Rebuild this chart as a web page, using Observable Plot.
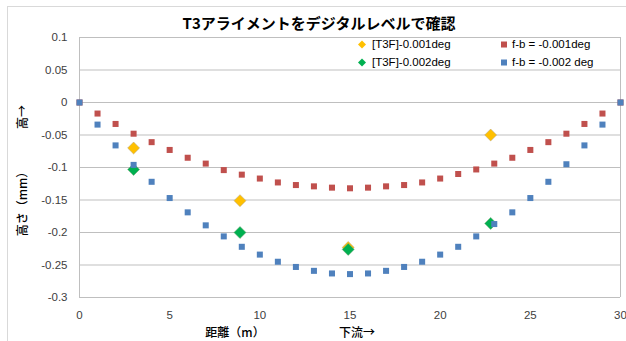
<!DOCTYPE html>
<html><head><meta charset="utf-8">
<script src="https://cdn.jsdelivr.net/npm/d3@7"></script>
<script src="https://cdn.jsdelivr.net/npm/@observablehq/plot@0.6"></script>
<style>
body{margin:0;background:#fff;}
#wrap{position:relative;width:626px;height:341px;overflow:hidden;font-family:"Liberation Sans","Noto Sans CJK JP",sans-serif;}
#frame{position:absolute;left:7px;top:6px;width:700px;height:400px;border:1px solid #d9d9d9;}
.abs{position:absolute;white-space:nowrap;}
#title{left:319px;top:22px;transform:translate(-50%,-50%);font:bold 15px "Noto Sans CJK JP",sans-serif;color:#000;}
.lab{font:500 12px/1 "Noto Sans CJK JP",sans-serif;color:#000;transform:translate(-50%,-50%);}
.rot{transform:translate(-50%,-50%) rotate(-90deg);}
.leg{font:11.5px "Liberation Sans",sans-serif;color:#000;transform:translateY(-50%);}
#chart{position:absolute;left:0;top:0;}
</style></head>
<body>
<div id="wrap">
<div id="frame"></div>
<div id="chart"></div>
<div id="title" class="abs">T3アライメントをデジタルレベルで確認</div>
<div class="abs lab rot" style="left:22px;top:117px;">高→</div>
<div class="abs lab rot" style="left:22px;top:201px;">高さ（mm）</div>
<div class="abs lab" style="left:235px;top:332px;">距離（m）</div>
<div class="abs lab" style="left:357px;top:332px;">下流→</div>
<div id="legend"></div>
</div>
<script>
const positions = [0,1,2,3,4,5,6,7,8,9,10,11,12,13,14,15,16,17,18,19,20,21,22,23,24,25,26,27,28,29,30];
const fb001 = [0,-0.017,-0.033,-0.048,-0.061,-0.073,-0.085,-0.094,-0.104,-0.111,-0.117,-0.123,-0.127,-0.129,-0.131,-0.132,-0.131,-0.129,-0.127,-0.123,-0.117,-0.110,-0.103,-0.094,-0.085,-0.073,-0.061,-0.048,-0.033,-0.017,0];
const fb002 = [0,-0.034,-0.066,-0.096,-0.122,-0.147,-0.169,-0.189,-0.206,-0.222,-0.234,-0.245,-0.253,-0.259,-0.263,-0.264,-0.263,-0.259,-0.253,-0.245,-0.234,-0.222,-0.206,-0.187,-0.169,-0.147,-0.122,-0.095,-0.066,-0.034,0];
const t3fPositions = [3, 8.9, 14.9, 22.8];
const t3f001 = [-0.070,-0.151,-0.223,-0.050];
const t3f002 = [-0.103,-0.200,-0.226,-0.186];
const xTicks = [0,5,10,15,20,25,30];
const yTicks = [0.1,0.05,0,-0.05,-0.1,-0.15,-0.2,-0.25,-0.3];
const yTickLabels = ["0.1","0.05","0","-0.05","-0.1","-0.15","-0.2","-0.25","-0.3"];
const seriesNames = ["[T3F]-0.001deg","f-b = -0.001deg","[T3F]-0.002deg","f-b = -0.002 deg"];
const colors = {yellow:"#ffc000", red:"#c0504d", green:"#00b050", blue:"#4f81bd"};

const toRows = (xs, ys) => xs.map((x,i)=>({x, y:ys[i]}));
const redRows = toRows(positions, fb001);
const blueRows = toRows(positions, fb002);
const yellowRows = toRows(t3fPositions, t3f001);
const greenRows = toRows(t3fPositions, t3f002);

const chart = Plot.plot({
  width:626, height:341,
  marginLeft:79, marginRight:6, marginTop:37, marginBottom:44,
  style:{fontFamily:"Liberation Sans, sans-serif", fontSize:"11.5px", color:"#404040", background:"transparent"},
  x:{domain:[0,30], ticks:xTicks, tickSize:0, tickPadding:13, label:null},
  y:{domain:[-0.3,0.1], ticks:yTicks, tickSize:0, tickPadding:12, label:null,
     tickFormat:d=>yTickLabels[yTicks.indexOf(d)] ?? d},
  marks:[
    Plot.gridY(yTicks,{stroke:"#bfbfbf", strokeOpacity:1}),
    Plot.ruleX([0,30],{stroke:"#bfbfbf", strokeOpacity:1}),
    Plot.dot(yellowRows,{x:"x", y:"y", symbol:"diamond2", r:5.4, fill:colors.yellow, stroke:"#b0a080", strokeWidth:0.5}),
    Plot.dot(redRows,{x:"x", y:"y", symbol:"square", r:3.4, fill:colors.red}),
    Plot.dot(greenRows,{x:"x", y:"y", symbol:"diamond2", r:5.4, fill:colors.green, stroke:"#70a070", strokeWidth:0.5}),
    Plot.dot(blueRows,{x:"x", y:"y", symbol:"square", r:3.4, fill:colors.blue})
  ]
});
document.getElementById("chart").appendChild(chart);

// legend
const legendItems = [
  {name:seriesNames[0], color:colors.yellow, shape:"diamond", left:357, top:44},
  {name:seriesNames[1], color:colors.red, shape:"square", left:500, top:44},
  {name:seriesNames[2], color:colors.green, shape:"diamond", left:357, top:62},
  {name:seriesNames[3], color:colors.blue, shape:"square", left:500, top:62}
];
const leg = document.getElementById("legend");
for (const it of legendItems) {
  const d = document.createElement("div");
  d.className = "abs leg";
  d.style.left = it.left + "px";
  d.style.top = it.top + "px";
  const mk = it.shape === "diamond"
    ? `<svg width="10" height="10" style="vertical-align:middle;margin-right:5px"><path d="M5,1L9,5L5,9L1,5Z" fill="${it.color}"/></svg>`
    : `<svg width="8" height="8" style="vertical-align:middle;margin-right:4px"><rect x="1" y="1" width="6" height="6" fill="${it.color}"/></svg>`;
  d.innerHTML = mk + `<span style="vertical-align:middle">${it.name}</span>`;
  leg.appendChild(d);
}
</script>
</body></html>
